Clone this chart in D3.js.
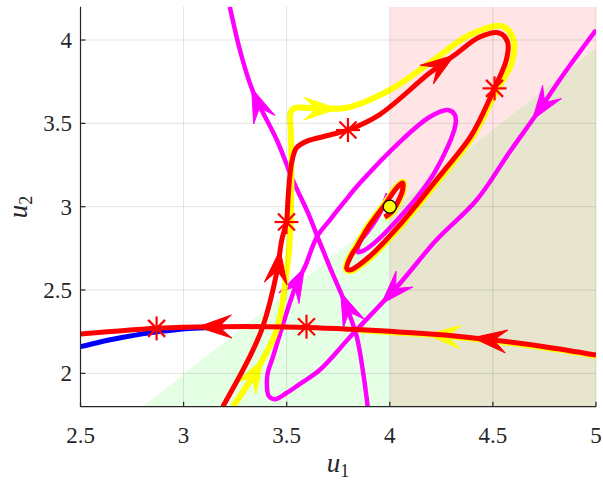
<!DOCTYPE html>
<html><head><meta charset="utf-8">
<script src="https://cdn.jsdelivr.net/npm/d3@7"></script>
<style>body{margin:0;background:#fff} svg{display:block}</style>
</head><body><svg id="c" width="603" height="482"></svg>
<script>
// ---------- data ----------
const xDomain = [2.5, 5];
const yDomain = [1.8, 4.2];
const xTicks = [2.5, 3, 3.5, 4, 4.5, 5];
const yTicks = [2, 2.5, 3, 3.5, 4];
const xTickLabels = ["2.5", "3", "3.5", "4", "4.5", "5"];
const yTickLabels = ["2", "2.5", "3", "3.5", "4"];

const greenRegion = [[2.8, 1.8], [5, 1.8], [5, 3.95]];
const pinkRegion = [[4, 1.8], [5, 1.8], [5, 4.2], [4, 4.2]];

const blueTraj = [[2.5, 2.16], [2.6, 2.19], [2.7, 2.215], [2.8, 2.237], [2.87, 2.25], [2.95, 2.26], [3.05, 2.27], [3.2, 2.278]];

const redR1 = [[5.0, 2.11], [4.75, 2.16], [4.5, 2.2], [4.25, 2.232], [4.0, 2.252], [3.8, 2.265], [3.6, 2.275], [3.4, 2.28], [3.2, 2.28], [3.0, 2.276], [2.87, 2.27], [2.7, 2.256], [2.5, 2.236]];
const yellowR1 = [[5.0, 2.103], [4.75, 2.153], [4.5, 2.193], [4.25, 2.226], [4.0, 2.246], [3.85, 2.258]];

const redR2 = [[3.19, 1.8], [3.321, 2.1], [3.384, 2.28], [3.451, 2.6], [3.476, 2.8], [3.499, 2.91], [3.506, 3.04], [3.515, 3.18], [3.525, 3.27], [3.547, 3.352], [3.596, 3.392], [3.709, 3.43], [3.797, 3.46], [3.951, 3.553], [4.193, 3.802], [4.314, 3.91], [4.436, 4.018], [4.532, 4.042], [4.571, 3.988], [4.565, 3.88], [4.508, 3.712], [4.436, 3.52], [4.387, 3.412], [4.218, 3.148], [4.058, 2.905], [3.893, 2.692], [3.806, 2.62], [3.791, 2.63], [3.81, 2.7], [3.84, 2.76], [3.893, 2.872], [3.975, 3.01], [4.038, 3.12], [4.063, 3.142], [4.062, 3.1], [4.04, 3.03], [4.009, 2.968], [3.975, 2.938]];

const yellowY1 = [[3.239, 1.8], [3.354, 2.02], [3.451, 2.26], [3.505, 2.662], [3.515, 2.8], [3.523, 3.16], [3.52, 3.46], [3.518, 3.56], [3.535, 3.59], [3.626, 3.592], [3.79, 3.594], [3.999, 3.7], [4.193, 3.862], [4.387, 4.03], [4.547, 4.082], [4.6, 4.0], [4.59, 3.86], [4.52, 3.7], [4.445, 3.515], [4.395, 3.405], [4.225, 3.14], [4.064, 2.898], [3.898, 2.684], [3.806, 2.612], [3.786, 2.63], [3.805, 2.7], [3.835, 2.762], [3.888, 2.874], [3.97, 3.012], [4.035, 3.124], [4.065, 3.15], [4.066, 3.1], [4.044, 3.028], [4.012, 2.962], [3.975, 2.932]];

const magentaA = [[3.893, 1.8], [3.869, 2.02], [3.84, 2.218], [3.791, 2.398], [3.709, 2.638], [3.646, 2.83], [3.612, 2.938], [3.53, 3.16], [3.452, 3.4], [3.354, 3.64], [3.321, 3.742], [3.273, 3.94], [3.224, 4.2]];

const magentaB = [[5.0, 4.06], [4.847, 3.802], [4.712, 3.556], [4.581, 3.328], [4.421, 3.04], [4.226, 2.8], [4.034, 2.518], [3.82, 2.236], [3.66, 2.02], [3.563, 1.936], [3.499, 1.882], [3.442, 1.845], [3.413, 1.864], [3.404, 1.93], [3.408, 2.002], [3.433, 2.098], [3.499, 2.362], [3.549, 2.542], [3.588, 2.638], [3.646, 2.818], [3.709, 2.92], [3.78, 3.03], [3.854, 3.14], [4.048, 3.388], [4.193, 3.538], [4.28, 3.58], [4.314, 3.555], [4.318, 3.49], [4.218, 3.208], [4.058, 2.95], [3.893, 2.752], [3.844, 2.728], [3.855, 2.79], [3.893, 2.85], [3.951, 2.96], [3.99, 3.08]];

// arrows: [trajectory key, tip u1, tip u2]
const arrowSpecs = [
  ["magentaA", 3.331, 3.712], ["magentaA", 3.757, 2.482],
  ["magentaB", 4.712, 3.502], ["magentaB", 3.975, 2.398], ["magentaB", 3.588, 2.632],
  ["yellowR1", 4.179, 2.242], ["yellowY1", 3.366, 2.1], ["yellowY1", 3.748, 3.58],
  ["redR1", 3.069, 2.28], ["redR1", 4.402, 2.218],
  ["redR2", 3.481, 2.74], ["redR2", 4.314, 3.91]
];

const starPts = [[2.869, 2.27], [3.596, 2.28], [3.499, 2.908], [3.797, 3.46], [4.508, 3.71]];
const equilibrium = [[4.0, 3.0]];

// ---------- drawing ----------
const svg = d3.select("#c");
const L = 80.5, R = 596, T = 6.7, B = 406.7;
const x = d3.scaleLinear().domain(xDomain).range([L, R]);
const y = d3.scaleLinear().domain(yDomain).range([B, T]);

svg.append("defs").append("clipPath").attr("id", "clip")
  .append("rect").attr("x", L).attr("y", T).attr("width", R - L).attr("height", B - T);

const plot = svg.append("g").attr("clip-path", "url(#clip)");
const poly = d3.line().x(d => x(d[0])).y(d => y(d[1]));

plot.append("path").attr("d", poly(greenRegion) + "Z").attr("fill", "#00ff00").attr("fill-opacity", 0.1);
plot.append("path").attr("d", poly(pinkRegion) + "Z").attr("fill", "#ff0000").attr("fill-opacity", 0.1);

// grid
const grid = svg.append("g");
xTicks.forEach(t => grid.append("line").attr("x1", x(t)).attr("x2", x(t)).attr("y1", T).attr("y2", B)
  .attr("stroke", "#000").attr("stroke-opacity", 0.11).attr("stroke-width", 1));
yTicks.forEach(t => grid.append("line").attr("x1", L).attr("x2", R).attr("y1", y(t)).attr("y2", y(t))
  .attr("stroke", "#000").attr("stroke-opacity", 0.11).attr("stroke-width", 1));

const smooth = d3.line().x(d => x(d[0])).y(d => y(d[1])).curve(d3.curveCatmullRom.alpha(0.5));

const trajs = {
  blueTraj: {data: blueTraj, color: "#0000ff", w: 5},
  magentaA: {data: magentaA, color: "#ff00ff", w: 4.5},
  magentaB: {data: magentaB, color: "#ff00ff", w: 4.5},
  yellowR1: {data: yellowR1, color: "#ffff00", w: 5.5},
  yellowY1: {data: yellowY1, color: "#ffff00", w: 6},
  redR1: {data: redR1, color: "#ff0000", w: 5},
  redR2: {data: redR2, color: "#ff0000", w: 5}
};
const order = ["blueTraj", "magentaA", "magentaB", "yellowR1", "yellowY1", "redR1", "redR2"];
const nodes = {};
order.forEach(k => {
  const t = trajs[k];
  nodes[k] = plot.append("path").attr("d", smooth(t.data)).attr("fill", "none")
    .attr("stroke", t.color).attr("stroke-width", t.w).attr("stroke-linejoin", "round").attr("stroke-linecap", "butt").node();
});

// arrowheads
const AL = 34, AW = 11.5, AN = 0.62;
const arrowG = {};
order.forEach(k => { arrowG[k] = plot.insert("g", function(){ return nodes[k].nextSibling; }); });
arrowSpecs.forEach(([k, u1, u2]) => {
  const node = nodes[k];
  const tot = node.getTotalLength();
  const px = x(u1), py = y(u2);
  let best = 0, bd = Infinity;
  for (let l = 0; l <= tot; l += 0.5) {
    const p = node.getPointAtLength(l);
    const d = (p.x - px) ** 2 + (p.y - py) ** 2;
    if (d < bd) { bd = d; best = l; }
  }
  const p = node.getPointAtLength(best);
  const q = node.getPointAtLength(Math.max(0, best - 8));
  let dx = p.x - q.x, dy = p.y - q.y; const n = Math.hypot(dx, dy) || 1; dx /= n; dy /= n;
  const nx = -dy, ny = dx;
  const pts = [
    [p.x, p.y],
    [p.x - dx * AL + nx * AW, p.y - dy * AL + ny * AW],
    [p.x - dx * AL * AN, p.y - dy * AL * AN],
    [p.x - dx * AL - nx * AW, p.y - dy * AL - ny * AW]
  ];
  arrowG[k].append("path").attr("d", "M" + pts.map(d => d.join(",")).join("L") + "Z")
    .attr("fill", trajs[k].color).attr("stroke", trajs[k].color).attr("stroke-width", 1).attr("stroke-linejoin", "miter");
});

// asterisks
const star = svg.append("g");
starPts.forEach(([u1, u2]) => {
  const cx = x(u1), cy = y(u2), r = 12, s = 8.5;
  const segs = [[-r, 0, r, 0], [0, -r, 0, r], [-s, -s, s, s], [-s, s, s, -s]];
  segs.forEach(g => star.append("line").attr("x1", cx + g[0]).attr("y1", cy + g[1]).attr("x2", cx + g[2]).attr("y2", cy + g[3])
    .attr("stroke", "#ff0000").attr("stroke-width", 2.2));
});

svg.selectAll(".eq").data(equilibrium).enter().append("circle")
  .attr("cx", d => x(d[0])).attr("cy", d => y(d[1])).attr("r", 6.5)
  .attr("fill", "#ffff00").attr("stroke", "#000").attr("stroke-width", 1.2);

// axes
const ax = svg.append("g").attr("stroke", "#262626").attr("stroke-width", 1.2);
ax.append("line").attr("x1", L).attr("x2", R).attr("y1", B).attr("y2", B);
ax.append("line").attr("x1", L).attr("x2", L).attr("y1", T).attr("y2", B);
xTicks.forEach(t => ax.append("line").attr("x1", x(t)).attr("x2", x(t)).attr("y1", B).attr("y2", B - 5));
yTicks.forEach(t => ax.append("line").attr("x1", L).attr("x2", L + 5).attr("y1", y(t)).attr("y2", y(t)));

const font = "Liberation Serif, DejaVu Serif, serif";
const tl = svg.append("g").style("font-family", font).style("font-size", "23px").attr("fill", "#262626");
xTicks.forEach((t, i) => tl.append("text").attr("x", x(t)).attr("y", 443).attr("text-anchor", "middle").text(xTickLabels[i]));
yTicks.forEach((t, i) => tl.append("text").attr("x", 72).attr("y", y(t) + 8).attr("text-anchor", "end").text(yTickLabels[i]));

const xl = svg.append("text").attr("x", 338).attr("y", 472).attr("text-anchor", "middle")
  .style("font-family", font).style("font-size", "27px").attr("fill", "#262626");
xl.append("tspan").style("font-style", "italic").text("u");
xl.append("tspan").style("font-size", "18px").attr("dy", 5).text("1");

const yl = svg.append("text").attr("transform", "translate(27,207) rotate(-90)").attr("text-anchor", "middle")
  .style("font-family", font).style("font-size", "27px").attr("fill", "#262626");
yl.append("tspan").style("font-style", "italic").text("u");
yl.append("tspan").style("font-size", "18px").attr("dy", 5).text("2");
</script></body></html>
